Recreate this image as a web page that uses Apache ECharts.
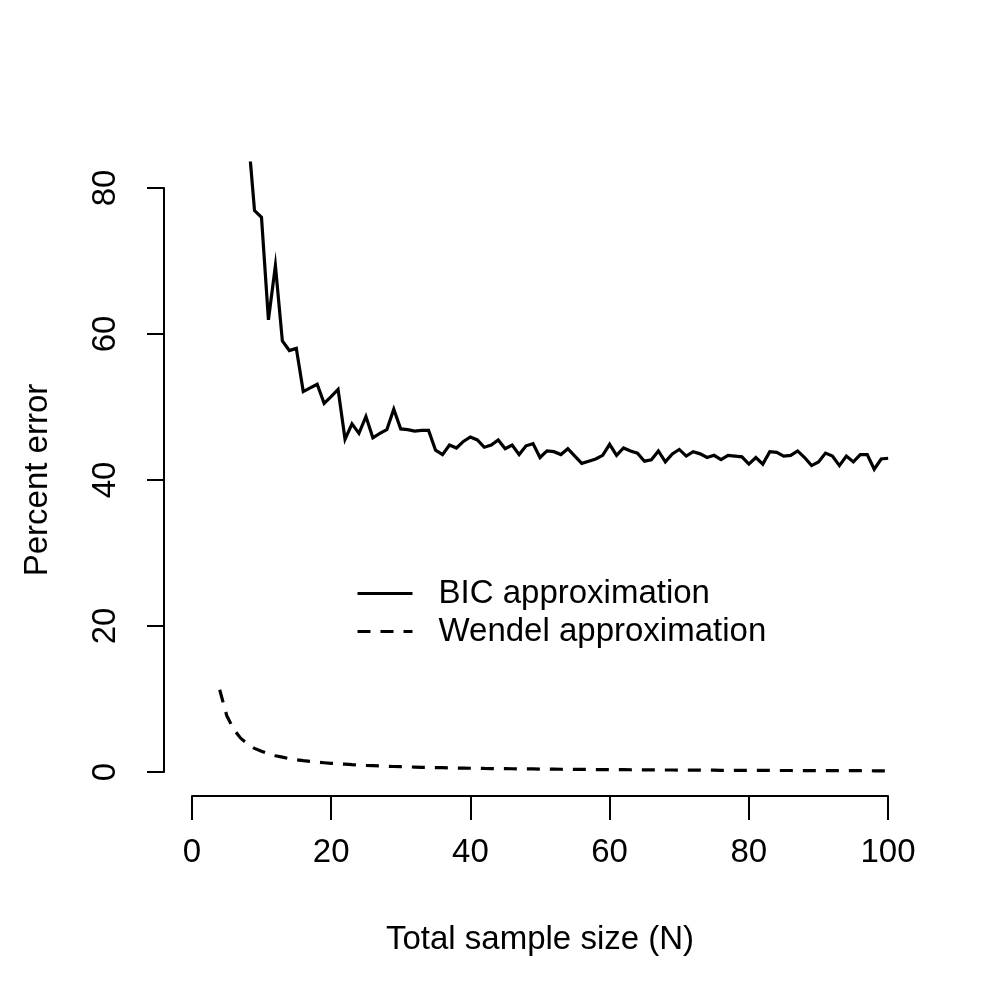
<!DOCTYPE html>
<html>
<head>
<meta charset="utf-8">
<script src="https://cdn.jsdelivr.net/npm/echarts@6/dist/echarts.min.js"></script>
<style>html,body{margin:0;padding:0;background:#fff}#c{width:1000px;height:1000px}</style>
</head>
<body>
<div id="c"></div>
<script>
const bicN = [8,9,10,11,12,13,14,15,16,17,18,19,20,21,22,23,24,25,26,27,28,29,30,31,32,33,34,35,36,37,38,39,40,41,42,43,44,45,46,47,48,49,50,51,52,53,54,55,56,57,58,59,60,61,62,63,64,65,66,67,68,69,70,71,72,73,74,75,76,77,78,79,80,81,82,83,84,85,86,87,88,89,90,91,92,93,94,95,96,97,98,99,100];
const bicValues = [88.0,76.7,75.8,61.8,69.2,58.9,57.6,57.9,52.0,52.5,53.0,50.4,51.3,52.3,45.5,47.6,46.3,48.6,45.7,46.3,46.8,49.6,46.9,46.8,46.6,46.7,46.7,44.0,43.4,44.7,44.3,45.2,45.8,45.4,44.4,44.7,45.4,44.2,44.7,43.4,44.6,44.9,43.0,43.9,43.8,43.4,44.2,43.2,42.2,42.5,42.8,43.3,44.8,43.3,44.3,43.9,43.6,42.5,42.7,43.9,42.4,43.5,44.1,43.2,43.8,43.5,43.0,43.3,42.7,43.3,43.2,43.1,42.1,43.0,42.1,43.8,43.7,43.2,43.3,43.9,43.0,41.9,42.4,43.6,43.2,41.9,43.2,42.4,43.4,43.4,41.4,42.8,42.9];
const wendelN = [4,5,6,7,8,9,10,11,12,13,14,15,16,17,18,19,20,21,22,23,24,25,26,27,28,29,30,31,32,33,34,35,36,37,38,39,40,41,42,43,44,45,46,47,48,49,50,51,52,53,54,55,56,57,58,59,60,61,62,63,64,65,66,67,68,69,70,71,72,73,74,75,76,77,78,79,80,81,82,83,84,85,86,87,88,89,90,91,92,93,94,95,96,97,98,99,100];
const wendelValues = [11.3,7.8,5.9,4.7,3.9,3.3,2.9,2.55,2.3,2.1,1.9,1.75,1.62,1.52,1.42,1.34,1.26,1.2,1.14,1.08,1.03,0.98,0.94,0.9,0.86,0.83,0.8,0.77,0.75,0.72,0.70,0.68,0.66,0.64,0.62,0.61,0.59,0.58,0.56,0.55,0.54,0.53,0.52,0.51,0.50,0.49,0.48,0.47,0.46,0.45,0.44,0.44,0.43,0.42,0.41,0.41,0.40,0.39,0.39,0.38,0.37,0.37,0.36,0.36,0.35,0.35,0.34,0.34,0.33,0.33,0.32,0.32,0.31,0.31,0.31,0.30,0.30,0.29,0.29,0.29,0.28,0.28,0.28,0.27,0.27,0.27,0.26,0.26,0.26,0.26,0.25,0.25,0.25,0.25,0.24,0.24,0.24];
const xTicks = [0, 20, 40, 60, 80, 100];
const yTicks = [0, 20, 40, 60, 80];
const seriesNames = ['BIC approximation', 'Wendel approximation'];
const xTitle = 'Total sample size (N)';
const yTitle = 'Percent error';

const FONT = 'Liberation Sans, Helvetica, Arial, sans-serif';
const FS = 33;
const DASH = [13, 10];

const chart = echarts.init(document.getElementById('c'), null, {renderer: 'canvas'});
chart.setOption({
  animation: false,
  backgroundColor: '#fff',
  textStyle: {fontFamily: FONT, color: '#000'},
  grid: [
    {left: 164, right: 84, top: 163, bottom: 204},   // data region
    {left: 164, right: 84, top: 188, bottom: 228},   // y axis (0..80)
    {left: 192, right: 112, top: 163, bottom: 204}   // x axis (0..100)
  ],
  xAxis: [
    {gridIndex: 0, type: 'value', min: -4, max: 104, show: false},
    {gridIndex: 1, type: 'value', min: 0, max: 100, show: false},
    {gridIndex: 2, type: 'value', min: xTicks[0], max: xTicks[xTicks.length-1], interval: 20,
     position: 'bottom',
     axisLine: {show: true, onZero: false, lineStyle: {color: '#000', width: 2}},
     axisTick: {show: true, inside: false, length: 24, lineStyle: {color: '#000', width: 2}},
     axisLabel: {show: true, margin: 40, fontSize: FS, color: '#000', fontFamily: FONT,
       customValues: xTicks},
     splitLine: {show: false},
     name: xTitle, nameLocation: 'middle', nameGap: 127,
     nameTextStyle: {fontSize: FS, color: '#000', fontFamily: FONT}}
  ],
  yAxis: [
    {gridIndex: 0, type: 'value', min: -3.2, max: 83.2, show: false},
    {gridIndex: 1, type: 'value', min: yTicks[0], max: yTicks[yTicks.length-1], interval: 20,
     position: 'left',
     axisLine: {show: true, onZero: false, lineStyle: {color: '#000', width: 2}},
     axisTick: {show: true, inside: false, length: 17, lineStyle: {color: '#000', width: 2}},
     axisLabel: {show: true, rotate: 90, margin: 42, fontSize: FS, color: '#000', fontFamily: FONT,
       customValues: yTicks},
     splitLine: {show: false},
     name: yTitle, nameLocation: 'middle', nameGap: 110, nameRotate: 90,
     nameTextStyle: {fontSize: FS, color: '#000', fontFamily: FONT}},
    {gridIndex: 2, type: 'value', min: 0, max: 1, show: false}
  ],
  legend: {
    orient: 'vertical', left: 351, top: 572, itemWidth: 55, itemHeight: 14, itemGap: 5,
    itemStyle: {opacity: 0, color: 'transparent', borderWidth: 0},
    lineStyle: {width: 3},
    textStyle: {fontSize: FS, color: '#000', fontFamily: FONT, padding: [0, 0, 0, 21]},
    data: seriesNames
  },
  series: [
    {name: seriesNames[0], type: 'line', xAxisIndex: 0, yAxisIndex: 0, clip: true,
     symbol: 'none', data: bicN.map((n, i) => [n, bicValues[i]]),
     lineStyle: {color: '#000', width: 3.2, type: 'solid', join: 'miter'}, itemStyle: {color: '#000'}},
    {name: seriesNames[1], type: 'line', xAxisIndex: 0, yAxisIndex: 0, clip: true,
     symbol: 'none', data: wendelN.map((n, i) => [n, wendelValues[i]]),
     lineStyle: {color: '#000', width: 3.2, type: DASH}, itemStyle: {color: '#000'}}
  ]
});
</script>
</body>
</html>
